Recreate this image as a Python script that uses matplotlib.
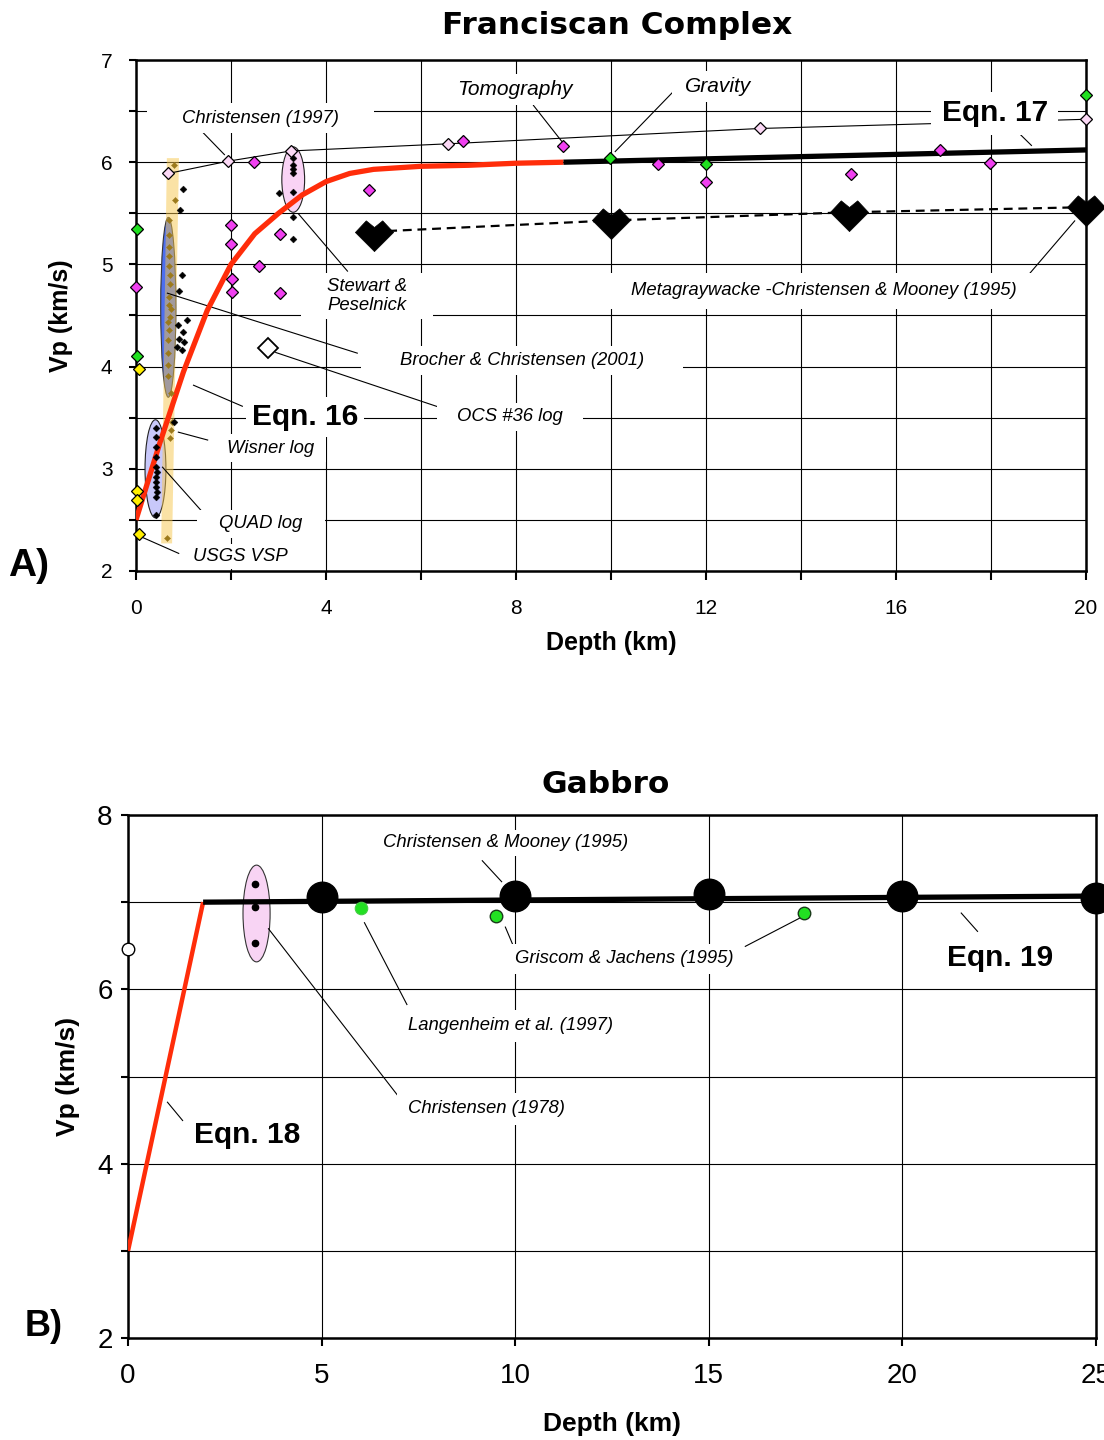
import matplotlib
matplotlib.use('Agg')
import matplotlib.pyplot as plt
from matplotlib.path import Path
from matplotlib.patches import Ellipse, Polygon
from matplotlib.ticker import MultipleLocator

plt.rcParams['font.family'] = ['Liberation Sans', 'DejaVu Sans']

# ------------------------- DATA: (A) Franciscan Complex -------------------------
eqn16_depth = [0, 0.5, 1.0, 1.5, 2.0, 2.5, 3.0, 3.5, 4.0, 4.5, 5.0, 6.0, 7.0, 8.0, 9.0]
eqn16_vp = [2.50, 3.25, 3.95, 4.55, 5.00, 5.30, 5.50, 5.68, 5.81, 5.89, 5.93, 5.96, 5.97, 5.99, 6.00]
eqn17_depth = [9.0, 20.0]
eqn17_vp = [6.00, 6.12]

chr97_depth = [0.68, 1.94, 3.26, 6.57, 13.14, 20.0]
chr97_vp = [5.89, 6.01, 6.11, 6.18, 6.33, 6.42]

meta_depth = [5.0, 10.0, 15.0, 20.0]
meta_vp = [5.32, 5.43, 5.51, 5.56]

mag_depth = [0.0, 2.0, 2.0, 2.02, 2.02, 2.48, 2.58, 3.03, 3.03, 4.9, 6.88, 8.99, 10.99, 12.0, 15.05, 16.93, 17.98]
mag_vp = [4.78, 5.39, 5.20, 4.86, 4.73, 6.00, 4.98, 5.30, 4.72, 5.73, 6.21, 6.16, 5.98, 5.81, 5.88, 6.12, 5.99]

green_depth = [0.02, 0.02, 9.98, 12.0, 20.0]
green_vp = [5.35, 4.10, 6.04, 5.98, 6.66]

yellow_depth = [0.06, 0.02, 0.02, 0.06]
yellow_vp = [3.98, 2.78, 2.69, 2.36]

ocs_depth = [2.78]
ocs_vp = [4.18]

blk_depth = [0.99, 0.93, 0.97, 0.91, 1.07, 0.88, 0.99, 0.91, 1.02, 0.87, 0.96, 0.80]
blk_vp = [5.74, 5.53, 4.90, 4.74, 4.46, 4.41, 4.34, 4.27, 4.24, 4.19, 4.16, 3.46]

quad_depth = [0.42, 0.43, 0.42, 0.43, 0.42, 0.44, 0.43, 0.42, 0.43, 0.44, 0.43, 0.42]
quad_vp = [3.40, 3.31, 3.21, 3.12, 3.02, 2.97, 2.92, 2.87, 2.82, 2.77, 2.72, 2.55]

sp_depth = [3.31, 3.31, 3.31, 3.31, 3.31, 3.01, 3.31, 3.31]
sp_vp = [6.04, 5.97, 5.93, 5.89, 5.71, 5.70, 5.46, 5.25]

wis_depth = [0.80, 0.82, 0.70, 0.70, 0.70, 0.70, 0.70, 0.71, 0.71, 0.70, 0.69, 0.73, 0.71, 0.68, 0.69,
             0.68, 0.68, 0.68, 0.68, 0.74, 0.75, 0.74, 0.72, 0.65]
wis_vp = [5.97, 5.63, 5.43, 5.29, 5.17, 5.08, 4.98, 4.90, 4.81, 4.68, 4.60, 4.56, 4.49, 4.44, 4.36,
          4.26, 4.13, 4.02, 3.91, 3.74, 3.46, 3.38, 3.30, 2.32]

# ------------------------- DATA: (B) Gabbro -------------------------
eqn18_depth = [0.0, 1.94]
eqn18_vp = [3.00, 7.00]
eqn19_depth = [1.94, 25.0]
eqn19_vp = [7.00, 7.07]

cm_depth = [5, 10, 15, 20, 25]
cm_vp = [7.06, 7.07, 7.09, 7.07, 7.05]

gj_depth = [9.5, 17.45]
gj_vp = [6.84, 6.87]

lang_depth = [6.02]
lang_vp = [6.93]

white_depth = [0.0]
white_vp = [6.46]

c78_depth = [3.28, 3.28, 3.28]
c78_vp = [7.21, 6.95, 6.53]


# ------------------------- helpers -------------------------
class PadBox:
    """Rectangular text box with separate x / y padding (fraction of font size)."""
    def __init__(self, padx, pady):
        self.padx, self.pady = padx, pady

    def __call__(self, x0, y0, width, height, mutation_size):
        px, py = self.padx * mutation_size, self.pady * mutation_size
        x0, y0 = x0 - px, y0 - py
        x1, y1 = x0 + width + 2 * px, y0 + height + 2 * py
        return Path([(x0, y0), (x1, y0), (x1, y1), (x0, y1), (x0, y0)], closed=True)


def label(ax, x, y, s, size=13.3, style='italic', weight='normal', padx=1.0, pady=0.3,
          family=None):
    kw = dict(ha='center', va='center', fontsize=size, style=style, weight=weight, zorder=6,
              bbox=dict(boxstyle=PadBox(padx, pady), fc='white', ec='none'))
    if family:
        kw['family'] = family
    ax.text(x, y, s, **kw)


def leader(ax, x0, y0, x1, y1):
    ax.plot([x0, x1], [y0, y1], color='k', lw=0.8, zorder=2.5, solid_capstyle='butt')


heart = Path([(0, -1.0), (-1.0, 0.0), (-0.43, 0.61), (0, 0.26), (0.43, 0.61), (1.0, 0.0), (0, -1.0)],
             closed=True)

fig = plt.figure(figsize=(11.04, 14.4), dpi=100)

# ========================= (A) =========================
ax1 = fig.add_axes([136 / 1104, 1 - 571 / 1440, 950 / 1104, 511 / 1440])
ax1.set_xlim(0, 20)
ax1.set_ylim(2, 7)
ax1.xaxis.set_major_locator(MultipleLocator(4))
ax1.xaxis.set_minor_locator(MultipleLocator(2))
ax1.yaxis.set_major_locator(MultipleLocator(1))
ax1.yaxis.set_minor_locator(MultipleLocator(0.5))
ax1.grid(which='both', color='k', lw=0.8, zorder=0)
ax1.set_axisbelow(True)
ax1.tick_params(axis='x', which='both', direction='out', length=6.5, width=1.5, pad=14,
                labelsize=15)
ax1.tick_params(axis='y', which='both', direction='out', length=5, width=1.5, pad=12,
                labelsize=15)
for sp in ax1.spines.values():
    sp.set_linewidth(1.8)

# shaded groups
ax1.add_patch(Ellipse((0.41, 3.00), 0.44, 0.96, fc='#c8c8fa', ec='#222222', lw=0.8, zorder=1))
ax1.add_patch(Ellipse((0.68, 4.58), 0.32, 1.76, fc='#4c6ef0', ec='#333333', lw=0.8, zorder=1))
ax1.add_patch(Ellipse((3.31, 5.83), 0.48, 0.64, fc='#f9d3f5', ec='#222222', lw=0.8, zorder=1))
ax1.add_patch(Polygon([(0.65, 6.04), (0.905, 6.04), (0.76, 2.27), (0.53, 2.27)], closed=True,
                      fc='#f7c74d', ec='none', alpha=0.5, zorder=1.5))

# lines
ax1.plot(chr97_depth, chr97_vp, color='k', lw=0.8, zorder=2)
ax1.plot(meta_depth, meta_vp, color='k', lw=1.6, ls=(0, (4, 2.6)), zorder=2)
ax1.plot(eqn16_depth, eqn16_vp, color='#ff2d0a', lw=3.8, zorder=3, solid_capstyle='butt')
ax1.plot(eqn17_depth, eqn17_vp, color='k', lw=3.8, zorder=3, solid_capstyle='butt')

# markers
mk = dict(ls='none', clip_on=False, zorder=4)
ax1.plot(wis_depth, wis_vp, marker='D', ms=3.1, mfc='#9c7a1c', mec='#9c7a1c', mew=0.3, **mk)
ax1.plot(blk_depth, blk_vp, marker='D', ms=3.5, mfc='k', mec='k', mew=0.3, **mk)
ax1.plot(quad_depth, quad_vp, marker='D', ms=3.5, mfc='k', mec='k', mew=0.3, **mk)
ax1.plot(sp_depth, sp_vp, marker='D', ms=3.5, mfc='k', mec='k', mew=0.3, **mk)
ax1.plot(mag_depth, mag_vp, marker='D', ms=6.6, mfc='#f040f0', mec='k', mew=0.9, **mk)
ax1.plot(green_depth, green_vp, marker='D', ms=6.0, mfc='#20e020', mec='k', mew=0.9, **mk)
ax1.plot(yellow_depth, yellow_vp, marker='D', ms=6.0, mfc='#ffee00', mec='k', mew=0.9, **mk)
ax1.plot(chr97_depth, chr97_vp, marker='D', ms=6.6, mfc='#fbd8f5', mec='k', mew=0.9, **mk)
ax1.plot(ocs_depth, ocs_vp, marker='D', ms=9.8, mfc='white', mec='k', mew=1.3, **mk)
ax1.plot(meta_depth, meta_vp, marker=heart, ms=27.5, mfc='k', mec='k', mew=0.5, **mk)

# labels & leader lines
label(ax1, 2.63, 6.43, 'Christensen (1997)', padx=1.9, pady=0.35)
leader(ax1, 1.39, 6.30, 1.87, 6.07)
label(ax1, 7.98, 6.71, 'Tomography', size=15, padx=0.5, pady=0.3)
leader(ax1, 8.36, 6.56, 8.97, 6.20)
label(ax1, 12.25, 6.74, 'Gravity', size=15, padx=0.6, pady=0.3)
leader(ax1, 11.31, 6.69, 10.08, 6.10)
label(ax1, 18.08, 6.48, 'Eqn. 17', size=21.5, style='normal', weight='bold', padx=0.35, pady=0.25)
leader(ax1, 18.51, 6.32, 18.86, 6.16)
label(ax1, 4.86, 4.69, 'Stewart &\nPeselnick', padx=1.4, pady=0.25)
leader(ax1, 4.46, 4.93, 3.41, 5.50)
label(ax1, 14.48, 4.74, 'Metagraywacke -Christensen & Mooney (1995)', padx=1.3, pady=0.5)
leader(ax1, 18.72, 4.86, 19.77, 5.43)
label(ax1, 8.13, 4.06, 'Brocher & Christensen (2001)', padx=2.1, pady=0.3)
leader(ax1, 0.65, 4.72, 4.67, 4.13)
label(ax1, 7.87, 3.51, 'OCS #36 log', padx=1.1, pady=0.3)
leader(ax1, 2.93, 4.14, 6.40, 3.60)
label(ax1, 3.56, 3.51, 'Eqn. 16', size=21.5, style='normal', weight='bold', padx=0.2, pady=0.2)
leader(ax1, 1.20, 3.82, 2.25, 3.61)
label(ax1, 2.84, 3.20, 'Wisner log', padx=0.6, pady=0.3)
leader(ax1, 0.88, 3.36, 1.52, 3.28)
label(ax1, 2.63, 2.46, 'QUAD log', padx=1.2, pady=0.3)
leader(ax1, 0.55, 3.02, 1.49, 2.53)
label(ax1, 2.19, 2.14, 'USGS VSP', padx=0.6, pady=0.2)
leader(ax1, 0.13, 2.33, 0.91, 2.17)

ax1.set_title('Franciscan Complex', family='DejaVu Sans', weight='bold', fontsize=22.5,
              pad=19, x=0.506)
ax1.set_xlabel('Depth (km)', fontsize=18, weight='bold')
ax1.xaxis.set_label_coords(0.5, -0.117)
ax1.set_ylabel('Vp (km/s)', fontsize=18, weight='bold')
ax1.yaxis.set_label_coords(-0.066, 0.5)
fig.text(8 / 1104, 1 - 566 / 1440, 'A)', fontsize=28, weight='bold', ha='left', va='center')

# ========================= (B) =========================
narrow = ['Liberation Sans Narrow', 'Liberation Sans', 'DejaVu Sans']
ax2 = fig.add_axes([128 / 1104, 1 - 1338 / 1440, 968 / 1104, 523 / 1440])
ax2.set_xlim(0, 25)
ax2.set_ylim(2, 8)
ax2.xaxis.set_major_locator(MultipleLocator(5))
ax2.yaxis.set_major_locator(MultipleLocator(2))
ax2.yaxis.set_minor_locator(MultipleLocator(1))
ax2.grid(which='both', color='k', lw=0.8, zorder=0)
ax2.set_axisbelow(True)
ax2.tick_params(axis='x', which='both', direction='out', length=6, width=1.5, pad=12,
                labelsize=20)
ax2.tick_params(axis='y', which='both', direction='out', length=5, width=1.5, pad=6,
                labelsize=20)
for t in ax2.get_xticklabels() + ax2.get_yticklabels():
    t.set_family(narrow)
for sp in ax2.spines.values():
    sp.set_linewidth(1.8)

ax2.add_patch(Ellipse((3.32, 6.87), 0.70, 1.11, fc='#f8d4f4', ec='#333333', lw=0.8, zorder=1))

ax2.plot(eqn18_depth, eqn18_vp, color='#ff2d0a', lw=3.2, zorder=3, solid_capstyle='butt')
ax2.plot(eqn19_depth, eqn19_vp, color='k', lw=3.8, zorder=3, solid_capstyle='butt')

ax2.plot(c78_depth, c78_vp, marker='o', ms=4.5, mfc='k', mec='k', **mk)
ax2.plot(cm_depth, cm_vp, marker='o', ms=22, mfc='k', mec='k', **mk)
ax2.plot(gj_depth, gj_vp, marker='o', ms=9, mfc='#22e022', mec='#1a3a1a', mew=1.0, **mk)
ax2.plot(lang_depth, lang_vp, marker='o', ms=9, mfc='#22e022', mec='#44cc44', mew=0.8, **mk)
ax2.plot(white_depth, white_vp, marker='o', ms=9, mfc='white', mec='k', mew=1.0, **mk)

label(ax2, 9.74, 7.68, 'Christensen & Mooney (1995)', padx=0.8, pady=0.25, family=narrow)
leader(ax2, 9.14, 7.48, 9.66, 7.23)
label(ax2, 12.81, 6.35, 'Griscom & Jachens (1995)', padx=0.6, pady=0.35, family=narrow)
leader(ax2, 9.94, 6.51, 9.74, 6.72)
leader(ax2, 15.93, 6.49, 17.36, 6.82)
label(ax2, 22.52, 6.36, 'Eqn. 19', size=21.5, style='normal', weight='bold', padx=0.3, pady=0.2,
      family=narrow)
leader(ax2, 21.51, 6.88, 21.95, 6.66)
label(ax2, 9.89, 5.58, 'Langenheim et al. (1997)', padx=0.6, pady=0.4, family=narrow)
leader(ax2, 7.21, 5.82, 6.10, 6.77)
label(ax2, 9.25, 4.63, 'Christensen (1978)', padx=0.6, pady=0.4, family=narrow)
leader(ax2, 6.97, 4.78, 3.62, 6.70)
label(ax2, 3.07, 4.33, 'Eqn. 18', size=21.5, style='normal', weight='bold', padx=0.3, pady=0.2,
      family=narrow)
leader(ax2, 1.01, 4.71, 1.42, 4.49)

ax2.set_title('Gabbro', family='DejaVu Sans', weight='bold', fontsize=22.5, pad=16, x=0.493)
ax2.set_xlabel('Depth (km)', fontsize=19, weight='bold', family=narrow)
ax2.xaxis.set_label_coords(0.5, -0.1415)
ax2.set_ylabel('Vp (km/s)', fontsize=19, weight='bold', family=narrow)
ax2.yaxis.set_label_coords(-0.05, 0.5)
fig.text(25 / 1104, 1 - 1327 / 1440, 'B)', fontsize=26, weight='bold', ha='left', va='center',
         family=narrow)

fig.savefig('out.png', dpi=100)
